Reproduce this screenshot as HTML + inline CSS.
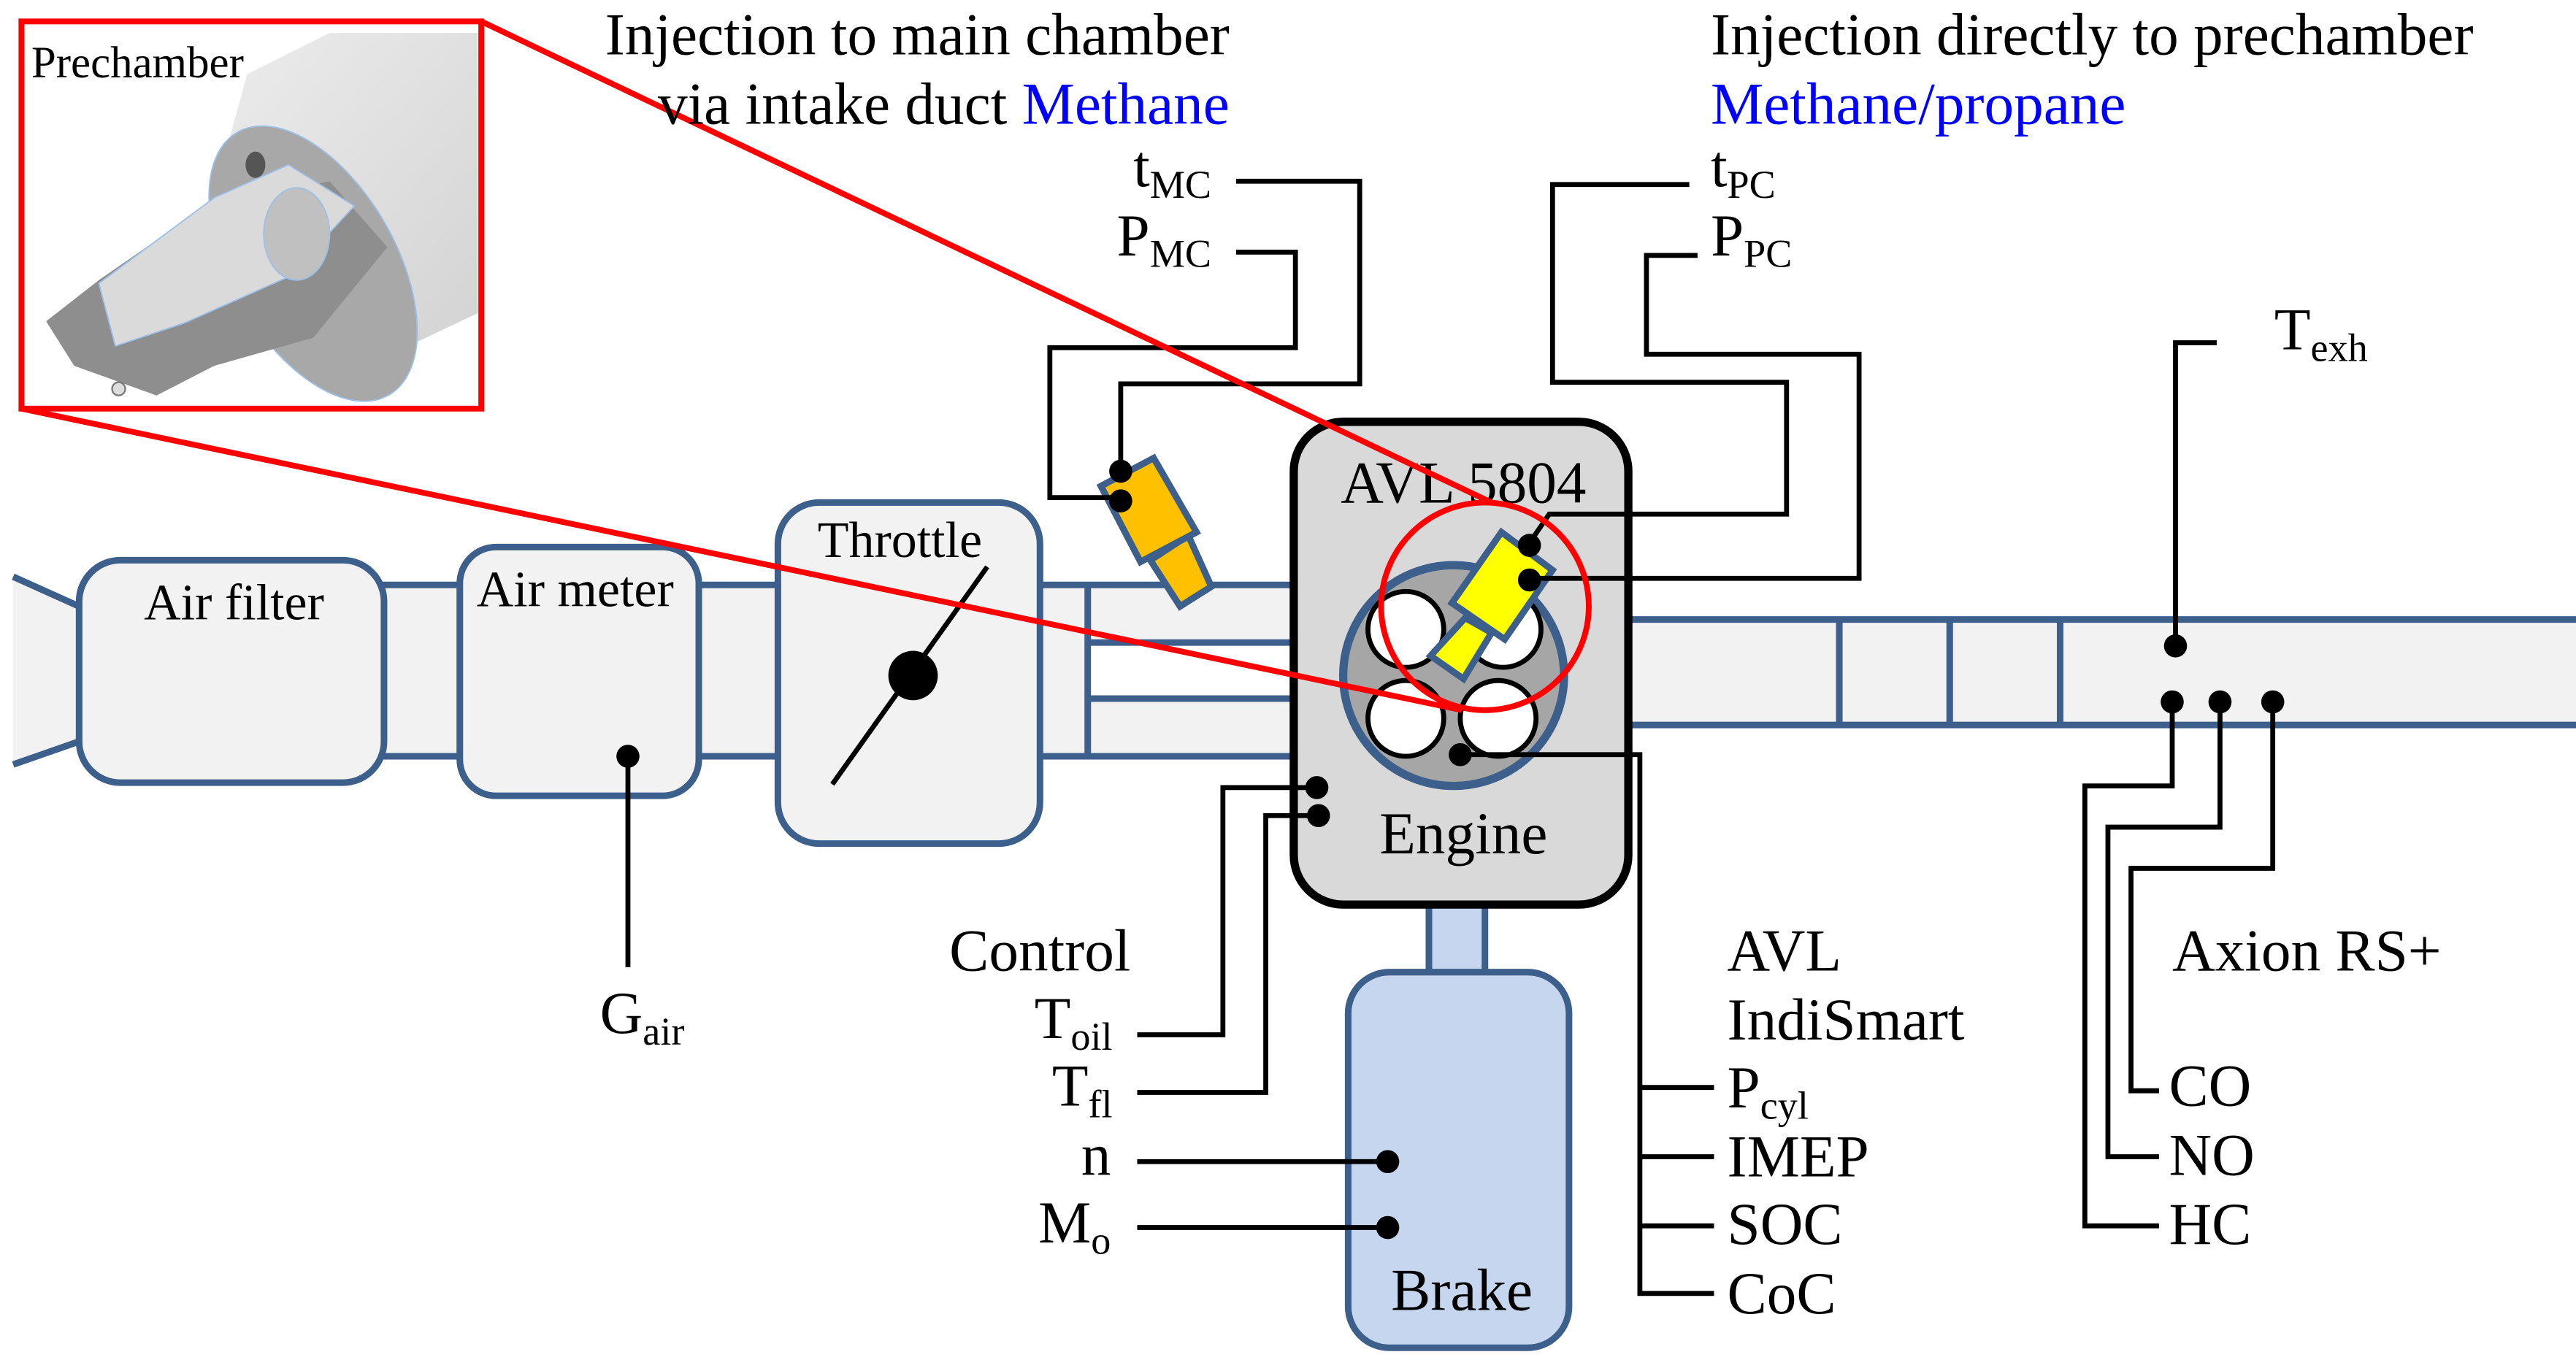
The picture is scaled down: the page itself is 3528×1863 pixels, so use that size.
<!DOCTYPE html>
<html><head><meta charset="utf-8"><style>html,body{margin:0;padding:0;background:#fff}svg{display:block}svg text{font-family:"Liberation Serif","Times New Roman",serif}</style></head><body>
<svg width="3528" height="1863" viewBox="0 0 1563 825.4" preserveAspectRatio="none" xmlns="http://www.w3.org/2000/svg" font-family="'Liberation Serif', serif" font-size="36">
<defs><linearGradient id="cyl" x1="0" y1="0" x2="1" y2="1"><stop offset="0" stop-color="#eeeeee"/><stop offset="1" stop-color="#d2d2d2"/></linearGradient></defs>
<!-- inset -->
<g>
<polygon points="150,45 200,20 290,20 290,190 210,228 110,190" fill="url(#cyl)"/>
<ellipse cx="190" cy="160" rx="50" ry="92" transform="rotate(-30 190 160)" fill="#a8a8a8" stroke="#9cc0e8" stroke-width="0.8"/>
<polygon points="60,170 125,125 200,110 235,150 190,205 130,222 95,240 45,222 28,195" fill="#8e8e8e"/>
<polygon points="60,172 130,120 175,100 215,125 175,168 112,196 70,210" fill="#dadada" stroke="#9cc0e8" stroke-width="0.8"/>
<ellipse cx="180" cy="142" rx="20" ry="28" fill="#c0c0c0" stroke="#9cc0e8" stroke-width="0.8"/>
<ellipse cx="155" cy="100" rx="6" ry="8" fill="#555"/>
<circle cx="72" cy="236" r="4" fill="#ddd" stroke="#777"/>
</g>
<rect x="13" y="13" width="279" height="235" fill="none" stroke="#f00" stroke-width="3.5"/>
<text x="19" y="47" font-size="27">Prechamber</text>

<!-- intake -->
<polygon points="8,350 48,368 48,450 8,464" fill="#f2f2f2"/>
<line x1="8" y1="350" x2="48" y2="368" stroke="#3d5f8c" stroke-width="4"/>
<line x1="8" y1="464" x2="48" y2="450" stroke="#3d5f8c" stroke-width="4"/>
<rect x="48" y="355" width="737" height="104" fill="#f2f2f2"/>
<g stroke="#3d5f8c" stroke-width="4" fill="none">
<line x1="230" y1="355" x2="280" y2="355"/><line x1="230" y1="459" x2="280" y2="459"/>
<line x1="422" y1="355" x2="474" y2="355"/><line x1="422" y1="459" x2="474" y2="459"/>
<line x1="629" y1="355" x2="785" y2="355"/><line x1="629" y1="459" x2="785" y2="459"/>
<line x1="660" y1="390" x2="785" y2="390"/><line x1="660" y1="424" x2="785" y2="424"/>
<line x1="660" y1="355" x2="660" y2="459"/>
</g>
<rect x="662" y="392" width="123" height="30" fill="#fff"/>
<g stroke="#3d5f8c" stroke-width="4" fill="#f2f2f2">
<rect x="48" y="340" width="185" height="135" rx="25"/>
<rect x="279" y="332" width="145" height="151" rx="22"/>
<rect x="472" y="305" width="159" height="207" rx="25"/>
</g>
<g font-size="31">
<text x="142" y="376" text-anchor="middle">Air filter</text>
<text x="349" y="368" text-anchor="middle">Air meter</text>
<text x="546" y="338" text-anchor="middle">Throttle</text>
</g>
<line x1="505" y1="476" x2="599" y2="344" stroke="#000" stroke-width="3"/>
<circle cx="554" cy="410" r="15" fill="#000"/>
<line x1="381" y1="459" x2="381" y2="587" stroke="#000" stroke-width="3"/>
<circle cx="381" cy="459" r="7" fill="#000"/>
<text x="364" y="627">G<tspan font-size="24" dy="7">air</tspan></text>

<!-- exhaust -->
<rect x="988" y="376" width="575" height="64" fill="#f2f2f2"/>
<g stroke="#3d5f8c" stroke-width="4">
<line x1="988" y1="376" x2="1563" y2="376"/><line x1="988" y1="440" x2="1563" y2="440"/>
<line x1="1116" y1="376" x2="1116" y2="440"/><line x1="1183" y1="376" x2="1183" y2="440"/><line x1="1250" y1="376" x2="1250" y2="440"/>
</g>

<!-- brake -->
<rect x="867" y="548" width="34" height="44" fill="#c5d6ee" stroke="#3d5f8c" stroke-width="4"/>
<rect x="818" y="590" width="134" height="228" rx="25" fill="#c5d6ee" stroke="#3d5f8c" stroke-width="4"/>
<text x="887" y="795" text-anchor="middle">Brake</text>

<!-- engine -->
<rect x="785" y="256" width="203" height="293" rx="30" fill="#d9d9d9" stroke="#000" stroke-width="5"/>
<text x="888" y="305" text-anchor="middle">AVL 5804</text>
<text x="888" y="518" text-anchor="middle">Engine</text>
<circle cx="882" cy="410" r="67" fill="#a6a6a6" stroke="#3d5f8c" stroke-width="5"/>
<g fill="#fff" stroke="#000" stroke-width="3">
<circle cx="853" cy="382" r="23"/><circle cx="912" cy="382" r="23"/>
<circle cx="853" cy="436" r="23"/><circle cx="909" cy="436" r="23"/>
</g>

<!-- injectors -->
<g fill="#ffc000" stroke="#3d5f8c" stroke-width="4">
<polygon points="698,340 721,325 735,356 716,368"/>
<polygon points="668,295 700,278 726,323 692,341"/>
</g>
<g fill="#ffff00" stroke="#3d5f8c" stroke-width="4">
<polygon points="889,375 905,384 888,412 868,398"/>
<polygon points="911,323 942,346 913,388 881,366"/>
</g>

<!-- wiring -->
<g stroke="#000" stroke-width="3" fill="none">
<polyline points="750,110 825,110 825,233 680,233 680,286"/>
<polyline points="750,153 786,153 786,211 637,211 637,302 680,302"/>
<polyline points="1025,112 942,112 942,232 1084,232 1084,312 940,312 927,331"/>
<polyline points="1030,155 999,155 999,215 1128,215 1128,351 927,351"/>
<polyline points="886,458 995,458 995,785 1040,785"/>
<line x1="995" y1="660" x2="1040" y2="660"/><line x1="995" y1="702" x2="1040" y2="702"/><line x1="995" y1="744" x2="1040" y2="744"/>
<polyline points="690,628 742,628 742,478 799,478"/>
<polyline points="690,663 768,663 768,495 800,495"/>
<line x1="690" y1="705" x2="842" y2="705"/>
<line x1="690" y1="745" x2="842" y2="745"/>
<polyline points="1345,208 1320,208 1320,392"/>
<polyline points="1379,426 1379,527 1293,527 1293,662 1310,662"/>
<polyline points="1347,426 1347,502 1279,502 1279,702 1310,702"/>
<polyline points="1318,426 1318,477 1265,477 1265,744 1310,744"/>
</g>
<g fill="#000">
<circle cx="680" cy="286" r="7"/><circle cx="680" cy="304" r="7"/>
<circle cx="928" cy="331" r="7"/><circle cx="928" cy="352" r="7"/>
<circle cx="886" cy="458" r="7"/>
<circle cx="799" cy="478" r="7"/><circle cx="800" cy="495" r="7"/>
<circle cx="842" cy="705" r="7"/><circle cx="842" cy="745" r="7"/>
<circle cx="1320" cy="392" r="7"/>
<circle cx="1318" cy="426" r="7"/><circle cx="1347" cy="426" r="7"/><circle cx="1379" cy="426" r="7"/>
</g>

<!-- red zoom -->
<line x1="292" y1="13" x2="905" y2="305" stroke="#f00" stroke-width="3.5"/>
<line x1="13" y1="248" x2="887" y2="431" stroke="#f00" stroke-width="3.5"/>
<circle cx="901" cy="368" r="63" fill="none" stroke="#f00" stroke-width="3.5"/>

<!-- labels -->
<text x="746" y="33" text-anchor="end">Injection to main chamber</text>
<text x="746" y="75" text-anchor="end">via intake duct <tspan fill="#0000ff">Methane</tspan></text>
<text x="1038" y="33">Injection directly to prechamber</text>
<text x="1038" y="75" fill="#0000ff">Methane/propane</text>
<text x="735" y="113" text-anchor="end">t<tspan font-size="24" dy="7">MC</tspan></text>
<text x="735" y="155" text-anchor="end">P<tspan font-size="24" dy="7">MC</tspan></text>
<text x="1038" y="113">t<tspan font-size="24" dy="7">PC</tspan></text>
<text x="1038" y="155">P<tspan font-size="24" dy="7">PC</tspan></text>
<text x="1380" y="212">T<tspan font-size="24" dy="7">exh</tspan></text>
<text x="686" y="589" text-anchor="end">Control</text>
<text x="675" y="630" text-anchor="end">T<tspan font-size="24" dy="7">oil</tspan></text>
<text x="675" y="671" text-anchor="end">T<tspan font-size="24" dy="7">fl</tspan></text>
<text x="674" y="713" text-anchor="end">n</text>
<text x="674" y="754" text-anchor="end">M<tspan font-size="24" dy="7">o</tspan></text>
<text x="1048" y="589">AVL</text>
<text x="1048" y="631">IndiSmart</text>
<text x="1048" y="672">P<tspan font-size="24" dy="7">cyl</tspan></text>
<text x="1048" y="714">IMEP</text>
<text x="1048" y="755">SOC</text>
<text x="1048" y="797">CoC</text>
<text x="1318" y="589">Axion RS+</text>
<text x="1316" y="671">CO</text>
<text x="1316" y="713">NO</text>
<text x="1316" y="755">HC</text>
</svg>
</body></html>
